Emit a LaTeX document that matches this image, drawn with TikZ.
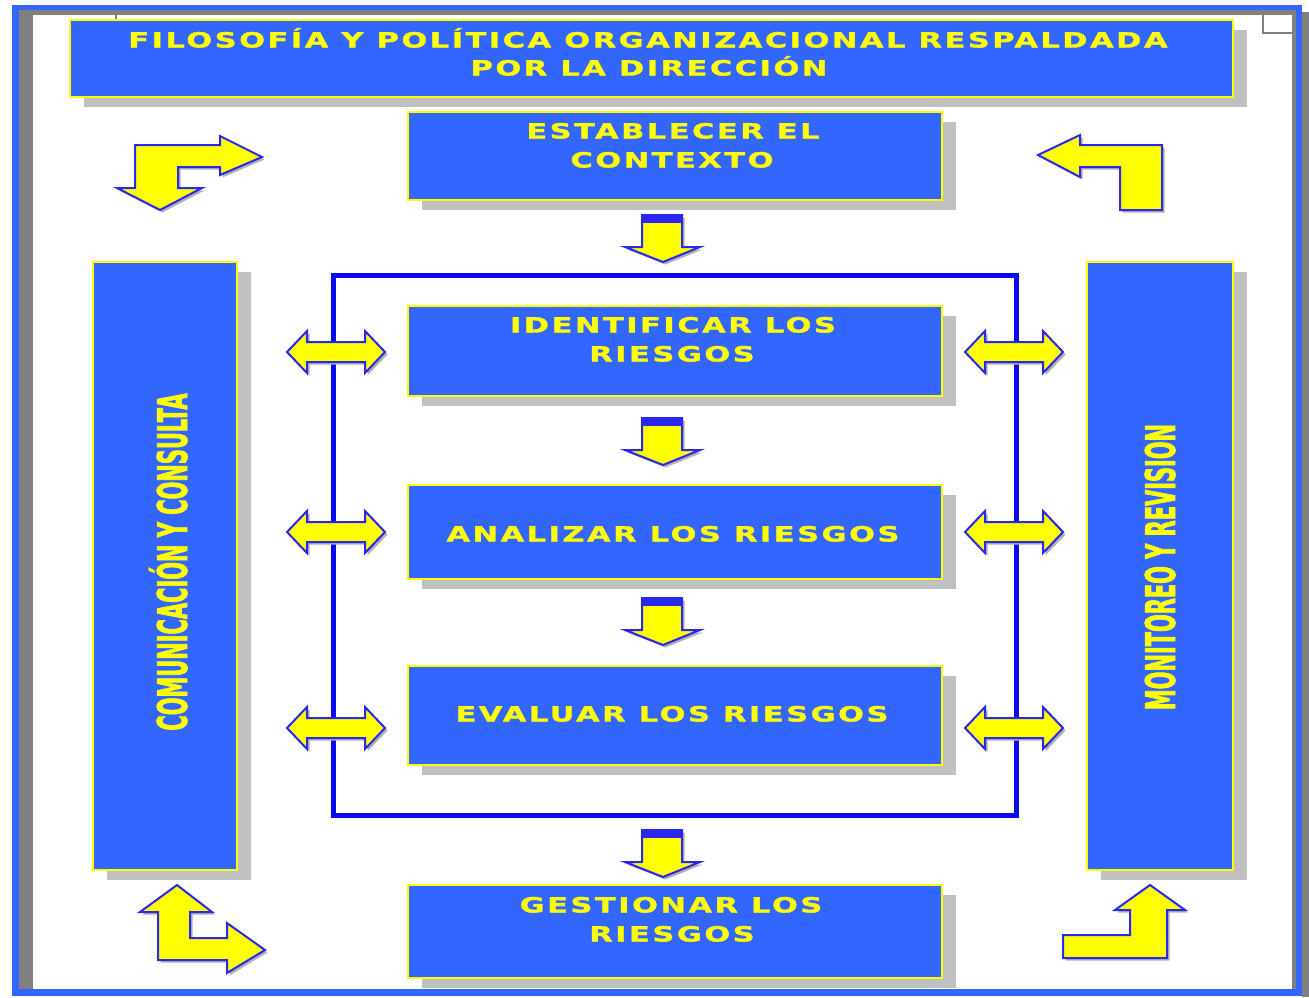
\documentclass[tikz,border=0pt]{standalone}
\usepackage{fontspec}
\usetikzlibrary{shadows}
\newfontfamily\boxfont{DejaVu Sans}[FakeStretch=1.45,LetterSpace=12,FakeBold=1.5]
\newfontfamily\sidefont{DejaVu Sans}[FakeStretch=0.51,FakeBold=1.5]
\definecolor{boxblue}{RGB}{51,102,255}
\definecolor{frameblue}{RGB}{51,102,255}
\definecolor{innerblue}{RGB}{10,10,240}
\definecolor{arrowblue}{RGB}{40,40,240}
\definecolor{shadowc}{RGB}{192,192,192}
\definecolor{framegray}{RGB}{128,128,128}
\definecolor{yell}{RGB}{255,255,0}
\newcommand\dnarrow[2]{%
  \begin{scope}[shift={(0,#2)}]
    \draw[blockarrow] (642,0) -- (682,0) -- (682,32) -- (700,32) -- (663,47) -- (625,32) -- (642,32) -- cycle;
    \fill[arrowblue] (642,0) rectangle (682,8);
    \coordinate (#1) at (663,47);
  \end{scope}}
\newcommand\dblarrow[3]{%
  \begin{scope}[shift={(#2,#3)}]
    \draw[blockarrow] (0,0) -- (20,-21) -- (20,-10) -- (78,-10) -- (78,-21) -- (98,0) -- (78,21) -- (78,10) -- (20,10) -- (20,21) -- cycle;
    \coordinate (#1) at (49,0);
  \end{scope}}
\begin{document}
\begin{tikzpicture}[x=1pt,y=-1pt,
  box/.style={draw=yell, line width=2pt, fill=boxblue, inner sep=0pt,
    drop shadow={shadow xshift=14pt, shadow yshift=-10pt, fill=shadowc, opacity=1}},
  btxt/.style={text=yell, font=\boxfont\bfseries\fontsize{21}{25}\selectfont, inner sep=0pt, text height=15pt, text depth=0pt},
  stxt/.style={text=yell, font=\sidefont\bfseries\fontsize{41}{45}\selectfont, inner sep=0pt, rotate=90, text height=30pt, text depth=0pt},
  blockarrow/.style={fill=yell, draw=arrowblue, line width=2pt, line join=miter,
    preaction={fill=black!30, transform canvas={shift={(2.5pt,-2.5pt)}}}},
]
\useasboundingbox (0,0) rectangle (1309,997);
\fill[white] (0,0) rectangle (1309,997);
% outer frame
\fill[framegray] (19,10) rectangle (33,990);
\fill[framegray] (19,10) rectangle (1296,15);
\fill[framegray] (1292,10) rectangle (1296,990);
\fill[framegray] (1302,12) rectangle (1309,997);
\fill[frameblue] (12,5) rectangle (19,996);
\fill[frameblue] (12,5) rectangle (1302,10);
\fill[frameblue] (1296,5) rectangle (1302,996);
\fill[frameblue] (12,989) rectangle (1302,996);
\draw[framegray, line width=1.5pt] (1263,15) -- (1263,33) -- (1293,33);
\draw[framegray, line width=1.5pt] (116,15) -- (116,19);

% boxes
\node[box, minimum width=1163pt, minimum height=77pt] (top) at (651.5,58.5) {};
\node[box, minimum width=534pt, minimum height=88pt] (ctx) at (675,156) {};
\node[box, minimum width=144pt, minimum height=608pt] (com) at (165,566) {};
\node[box, minimum width=146pt, minimum height=608pt] (mon) at (1160,566) {};
\node[draw=innerblue, line width=5pt, minimum width=683pt, minimum height=540pt] (frame) at (674.5,545) {};
\node[box, minimum width=534pt, minimum height=90pt] (ide) at (675,351) {};
\node[box, minimum width=534pt, minimum height=94pt] (ana) at (675,532) {};
\node[box, minimum width=534pt, minimum height=99pt] (eva) at (675,715.5) {};
\node[box, minimum width=534pt, minimum height=93pt] (ges) at (675,931.5) {};

% texts
\node[btxt] (top1) at (648,40) {FILOSOFÍA Y POLÍTICA ORGANIZACIONAL RESPALDADA};
\node[btxt] (top2) at (649,68) {POR LA DIRECCIÓN};
\node[btxt] (ctx1) at (673,131) {ESTABLECER EL};
\node[btxt] (ctx2) at (672,160) {CONTEXTO};
\node[btxt] (ide1) at (673,325) {IDENTIFICAR LOS};
\node[btxt] (ide2) at (672,354) {RIESGOS};
\node[btxt] (ana1) at (673,534) {ANALIZAR LOS RIESGOS};
\node[btxt] (eva1) at (672,714) {EVALUAR LOS RIESGOS};
\node[btxt] (ges1) at (671,905) {GESTIONAR LOS};
\node[btxt] (ges2) at (672,934) {RIESGOS};
\node[stxt] (comt) at (172,562) {COMUNICACIÓN Y CONSULTA};
\node[stxt] (mont) at (1160,567) {MONITOREO Y REVISION};

% down arrows
\dnarrow{d1}{215}
\dnarrow{d2}{418}
\dnarrow{d3}{598}
\dnarrow{d4}{830}

% double arrows
\dblarrow{l1}{287}{352}
\dblarrow{l2}{287}{532}
\dblarrow{l3}{287}{728}
\dblarrow{r1}{965}{352}
\dblarrow{r2}{965}{532}
\dblarrow{r3}{965}{728}

% corner arrows
\draw[blockarrow] (135,145) -- (220,145) -- (220,136) -- (262,157) -- (220,175) -- (220,167) -- (178,167) -- (178,188) -- (202,188) -- (160,210) -- (117,188) -- (135,188) -- cycle;
\draw[blockarrow] (1038,155) -- (1080,135) -- (1080,145) -- (1162,145) -- (1162,210) -- (1120,210) -- (1120,167) -- (1080,167) -- (1080,177) -- cycle;
\draw[blockarrow] (177,885) -- (212,912) -- (190,912) -- (190,938) -- (227,938) -- (227,923) -- (265,950) -- (227,973) -- (227,960) -- (158,960) -- (158,912) -- (140,912) -- cycle;
\draw[blockarrow] (1150,885) -- (1185,910) -- (1167,910) -- (1167,958) -- (1063,958) -- (1063,935) -- (1130,935) -- (1130,910) -- (1115,910) -- cycle;
\end{tikzpicture}
\end{document}
